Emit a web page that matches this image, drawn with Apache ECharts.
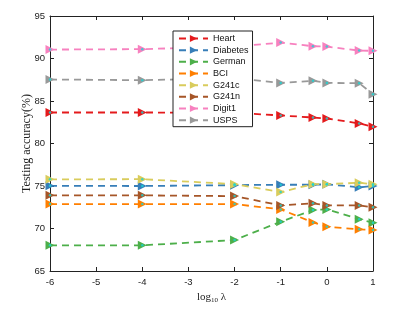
<!DOCTYPE html>
<html><head><meta charset="utf-8">
<script src="https://cdn.jsdelivr.net/npm/echarts@6/dist/echarts.min.js"></script>
<style>html,body{margin:0;padding:0;background:#fff}#c{width:399px;height:309px}</style>
</head><body><div id="c"></div>
<script>
const xVals = [-6, -4, -2, -1, -0.3, 0, 0.7, 1];
const seriesNames = ['Heart','Diabetes','German','BCI','G241c','G241n','Digit1','USPS'];
const heart    = [83.65, 83.65, 83.6, 83.3, 83.06, 82.94, 82.36, 81.96];
const diabetes = [75.02, 75.0, 75.1, 75.15, 75.15, 75.2, 74.85, 75.0];
const german   = [68.02, 68.02, 68.64, 70.8, 72.17, 72.25, 71.1, 70.68];
const bci      = [72.87, 72.87, 72.87, 72.25, 70.72, 70.2, 69.9, 69.82];
const g241c    = [75.78, 75.8, 75.22, 74.28, 75.22, 75.22, 75.38, 75.2];
const g241n    = [73.9, 73.9, 73.81, 72.72, 72.96, 72.72, 72.72, 72.49];
const digit1   = [91.05, 91.1, 91.4, 91.87, 91.44, 91.4, 90.93, 90.9];
const usps     = [87.53, 87.45, 87.7, 87.13, 87.37, 87.13, 87.1, 85.8];
const yTicks = [65, 70, 75, 80, 85, 90, 95];
const xTicks = [-6, -5, -4, -3, -2, -1, 0, 1];

const allValues = [heart, diabetes, german, bci, g241c, g241n, digit1, usps];
const colors = ['#e41a1c','#377eb8','#4daf4a','#ff7f00','#d9cc5c','#a65628','#f781bf','#999999'];

const chart = echarts.init(document.getElementById('c'));
const sans = 'Liberation Sans';
const serif = 'Liberation Serif';

const lineSeries = seriesNames.map((n, i) => ({
  name: n, type: 'line',
  data: xVals.map((x, j) => [x, allValues[i][j]]),
  symbol: 'triangle', symbolSize: 9, symbolRotate: -90,
  itemStyle: { color: colors[i] },
  lineStyle: { color: colors[i], width: 1.8, type: [7, 5] },
  z: 2
}));
const dotSeries = seriesNames.map((n, i) => ({
  name: n + '_dot', type: 'scatter',
  data: xVals.map((x, j) => [x, allValues[i][j]]),
  symbol: 'circle', symbolSize: 2.5,
  itemStyle: { color: '#19d6d6' }, silent: true, z: 3
}));

const axisCommon = {
  axisLine: { show: true, onZero: false, lineStyle: { color: '#222', width: 1 } },
  axisTick: { show: true, inside: true, length: 4, lineStyle: { color: '#222' } },
  splitLine: { show: false }
};

chart.setOption({
  animation: false,
  backgroundColor: '#fff',
  grid: { left: 50, right: 26, top: 16, bottom: 38 },
  legend: {
    data: seriesNames, orient: 'vertical', left: 173, top: 31,
    backgroundColor: '#fff', borderColor: '#222', borderWidth: 1,
    padding: [2, 4, 1, 5], itemGap: 0.67, itemWidth: 29, itemHeight: 9,
    textStyle: { fontFamily: sans, fontSize: 9, lineHeight: 11, color: '#111' }
  },
  xAxis: [
    Object.assign({ type: 'value', min: -6, max: 1, interval: 1, position: 'bottom',
      name: 'log{sub|10} λ', nameLocation: 'middle', nameGap: 20, nameMoveOverlap: false,
      nameTextStyle: { fontFamily: serif, fontSize: 11, color: '#222',
        rich: { sub: { fontFamily: serif, fontSize: 7, verticalAlign: 'bottom', padding: [6, 0, 0, 0], color: '#222' } } },
      axisLabel: { fontFamily: sans, fontSize: 9.5, color: '#222', margin: 6,
        formatter: v => xTicks.includes(v) ? String(v) : '' } }, axisCommon),
    Object.assign({ type: 'value', min: -6, max: 1, interval: 1, position: 'top',
      axisLabel: { show: false } }, axisCommon)
  ],
  yAxis: [
    Object.assign({ type: 'value', min: 65, max: 95, interval: 5, position: 'left',
      name: 'Testing accuracy(%)', nameLocation: 'middle', nameGap: 17, nameMoveOverlap: false,
      nameTextStyle: { fontFamily: serif, fontSize: 12, color: '#222' },
      axisLabel: { fontFamily: sans, fontSize: 9.5, color: '#222', margin: 5,
        formatter: v => yTicks.includes(v) ? String(v) : '' } }, axisCommon),
    Object.assign({ type: 'value', min: 65, max: 95, interval: 5, position: 'right',
      axisLabel: { show: false } }, axisCommon)
  ],
  series: lineSeries.concat(dotSeries)
});
</script></body></html>
